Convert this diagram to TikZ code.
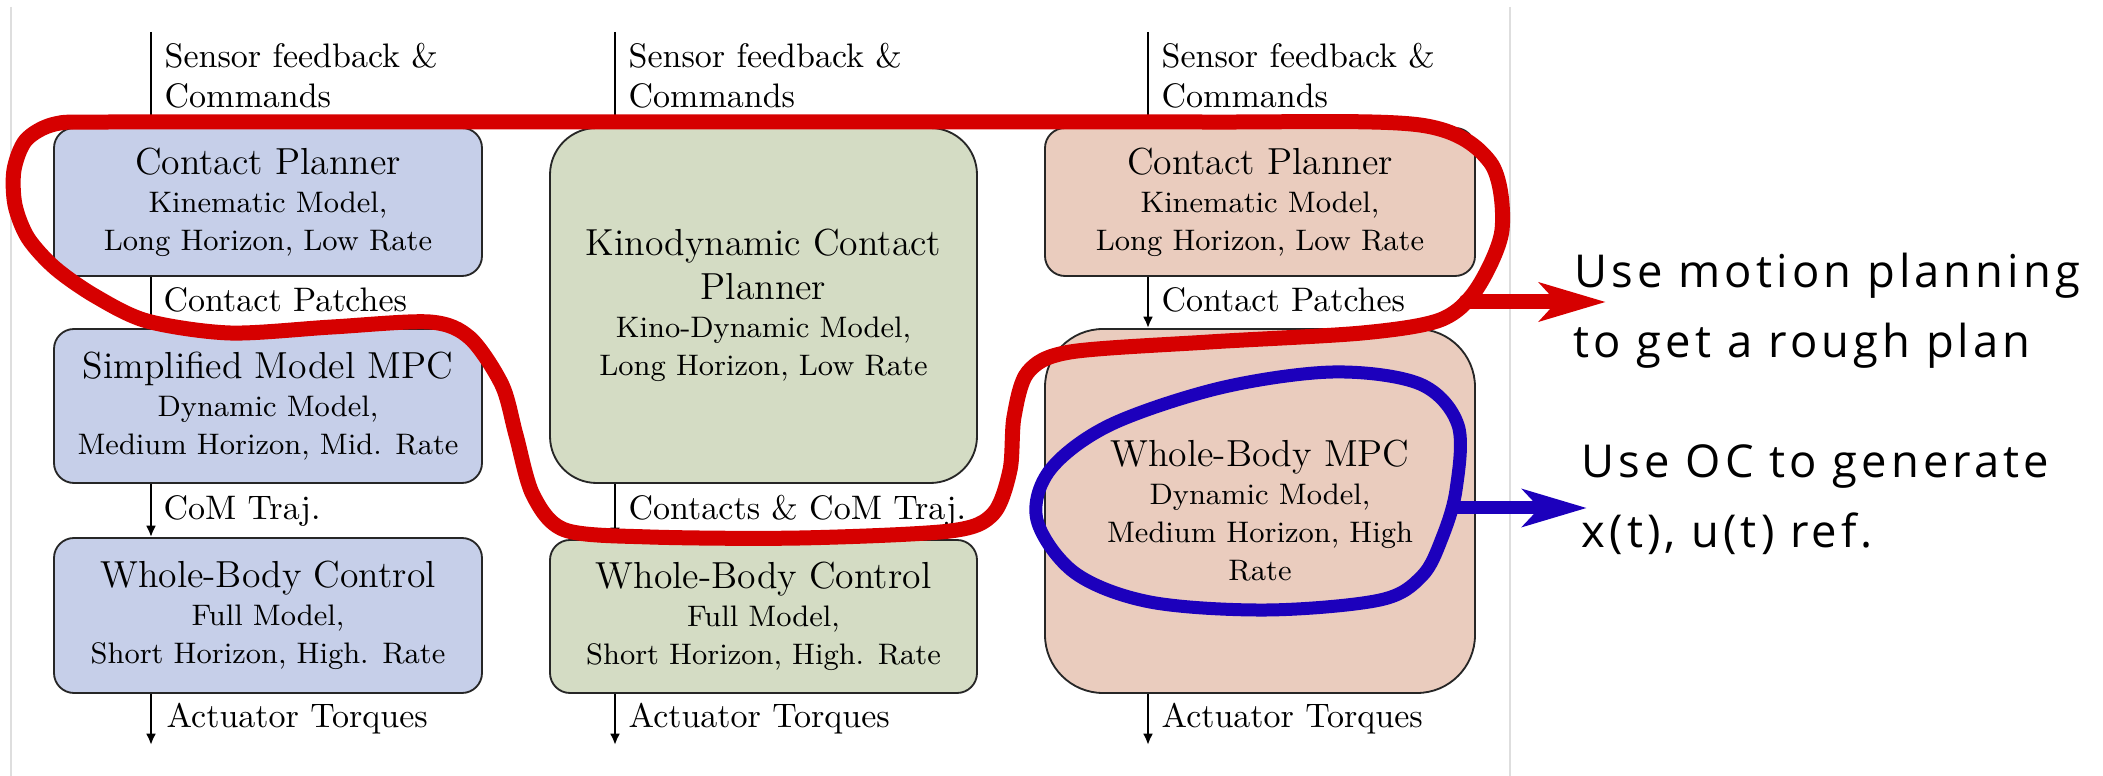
\documentclass[tikz,border=0pt]{standalone}
\usepackage{fontspec}
\newfontfamily\notefamily{Open Sans}[LetterSpace=9]
\usetikzlibrary{arrows.meta}
\definecolor{cpblue}{RGB}{198,207,233}
\definecolor{cpgreen}{RGB}{212,220,196}
\definecolor{cppink}{RGB}{234,204,190}
\definecolor{loopred}{RGB}{214,0,0}
\definecolor{loopblue}{RGB}{28,0,188}
\definecolor{edgegray}{RGB}{222,222,222}
\newcommand\boxsubfont{\fontsize{8.9}{11.4}\selectfont}
\newcommand\boxtitlefont{\fontsize{11.3}{11.4}\selectfont}
\newcommand\edgelabelfont{\fontsize{10.2}{12}\selectfont}
\newcommand\notefont{\notefamily\fontsize{13.6}{21}\selectfont}
\begin{document}
\begin{tikzpicture}[x=0.3pt,y=-0.3pt,
  stage/.style={draw=black!85, line width=0.55pt, rounded corners=6pt,
    align=center, inner sep=0pt, font=\boxsubfont, text=black},
  flow/.style={line width=0.85pt, -{Latex[length=3.4pt,width=3pt]}},
  elabel/.style={anchor=base west, inner sep=0pt, font=\edgelabelfont},
  note/.style={anchor=base west, inner sep=0pt, font=\notefont},
  redloop/.style={draw=loopred, line width=4.5pt, line cap=round, line join=round},
  blueloop/.style={draw=loopblue, line width=3.9pt, line cap=round, line join=round}]

\useasboundingbox (0,0) rectangle (2103,776);
\fill[white] (0,0) rectangle (2103,776);
% page edges
\draw[edgegray, line width=0.35pt] (11,7) -- (11,776);
\draw[edgegray, line width=0.35pt] (1510,7) -- (1510,776);

% column 1: contact planner / simplified MPC / whole-body control
\node[stage, fill=cpblue, minimum width=128.4pt, minimum height=44.4pt] (b1) at (268,202)
  {{\boxtitlefont Contact Planner}\\Kinematic Model,\\Long Horizon, Low Rate};
\node[stage, fill=cpblue, minimum width=128.4pt, minimum height=46.2pt] (b2) at (268,406)
  {{\boxtitlefont Simplified Model MPC}\\Dynamic Model,\\Medium Horizon, Mid. Rate};
\node[stage, fill=cpblue, minimum width=128.4pt, minimum height=46.5pt] (b3) at (268,615.5)
  {{\boxtitlefont Whole-Body Control}\\Full Model,\\Short Horizon, High. Rate};

% column 2: kinodynamic planner / whole-body control
\node[stage, fill=cpgreen, rounded corners=14pt, minimum width=128.1pt, minimum height=106.5pt] (k1) at (763.5,305.5)
  {{\boxtitlefont Kinodynamic Contact}\\[1.9pt]{\boxtitlefont Planner}\\Kino-Dynamic Model,\\Long Horizon, Low Rate};
\node[stage, fill=cpgreen, minimum width=128.1pt, minimum height=45.9pt] (k2) at (763.5,616.5)
  {{\boxtitlefont Whole-Body Control}\\Full Model,\\Short Horizon, High. Rate};

% column 3: contact planner / whole-body MPC
\node[stage, fill=cppink, minimum width=129pt, minimum height=44.4pt] (c1) at (1260,202)
  {{\boxtitlefont Contact Planner}\\Kinematic Model,\\Long Horizon, Low Rate};
\node[stage, fill=cppink, rounded corners=17.4pt, minimum width=129pt, minimum height=109.2pt] (c2) at (1260,511)
  {{\boxtitlefont Whole-Body MPC}\\Dynamic Model,\\Medium Horizon, High\\Rate};

% signal entry and exit points
\coordinate (in1) at (151,32);
\coordinate (in2) at (615,32);
\coordinate (in3) at (1148,32);
\coordinate (out1) at (151,745);
\coordinate (out2) at (615,745);
\coordinate (out3) at (1148,745);

% signal flow
\draw[flow] (in1) -- (in1 |- b1.north);
\draw[flow] (b1.south -| in1) -- (b2.north -| in1);
\draw[flow] (b2.south -| in1) -- (b3.north -| in1);
\draw[flow] (b3.south -| in1) -- (out1);
\draw[flow] (in2) -- (in2 |- k1.north);
\draw[flow] (k1.south -| in2) -- (k2.north -| in2);
\draw[flow] (k2.south -| in2) -- (out2);
\draw[flow] (in3) -- (in3 |- c1.north);
\draw[flow] (c1.south -| in3) -- (c2.north -| in3);
\draw[flow] (c2.south -| in3) -- (out3);

% signal labels
\node[elabel] (s1a) at (164,68) {Sensor feedback \&};
\node[elabel] (s1b) at (164,108) {Commands};
\node[elabel] (s2a) at (628,68) {Sensor feedback \&};
\node[elabel] (s2b) at (628,108) {Commands};
\node[elabel] (s3a) at (1161,68) {Sensor feedback \&};
\node[elabel] (s3b) at (1161,108) {Commands};
\node[elabel] (p1) at (163,312) {Contact Patches};
\node[elabel] (p3) at (1161,312) {Contact Patches};
\node[elabel] (t1) at (163,520) {CoM Traj.};
\node[elabel] (t2) at (628,520) {Contacts \& CoM Traj.};
\node[elabel] (a1) at (166,728) {Actuator Torques};
\node[elabel] (a2) at (628,728) {Actuator Torques};
\node[elabel] (a3) at (1161,728) {Actuator Torques};

% hand-drawn grouping of the planning layers
\draw[redloop] plot[smooth cycle, tension=0.5] coordinates {
  (110,122) (400,122) (800,122) (1200,122) (1420,125) (1490,162) (1502,230)
  (1476,290) (1440,320) (1362,333) (1209,342) (1070,352) (1028,372) (1014,417)
  (1010,470) (993,514) (950,531) (800,538) (650,537) (565,530) (533,495)
  (516,435) (502,385) (470,338) (430,322) (332,327) (230,333) (147,321)
  (95,296) (55,268) (28,238) (15,205) (14,170) (26,140) (55,124)};
\coordinate (redout) at (1466,302);
\coordinate (redtip) at (1606,302);
\draw[redloop, -{Stealth[length=19.8pt,width=11.4pt,inset=5pt]}] (redout) -- (redtip);

% hand-drawn loop around the optimal-control layer
\draw[blueloop] plot[smooth cycle, tension=0.55] coordinates {
  (1333,372) (1420,384) (1458,425) (1456,490) (1442,538) (1422,576) (1380,600)
  (1267,610) (1150,602) (1075,573) (1037,520) (1050,470) (1110,425) (1220,388)};
\coordinate (blueout) at (1456,508);
\coordinate (bluetip) at (1587,508);
\draw[blueloop, -{Stealth[length=19.2pt,width=11.1pt,inset=5pt]}] (blueout) -- (bluetip);

% notes
\node[note] (n1) at (1574,288) {Use motion planning};
\node[note] (n2) at (1573,358) {to get a rough plan};
\node[note] (n3) at (1581,478) {Use OC to generate};
\node[note] (n4) at (1581,548) {x(t), u(t) ref.};
\end{tikzpicture}
\end{document}
